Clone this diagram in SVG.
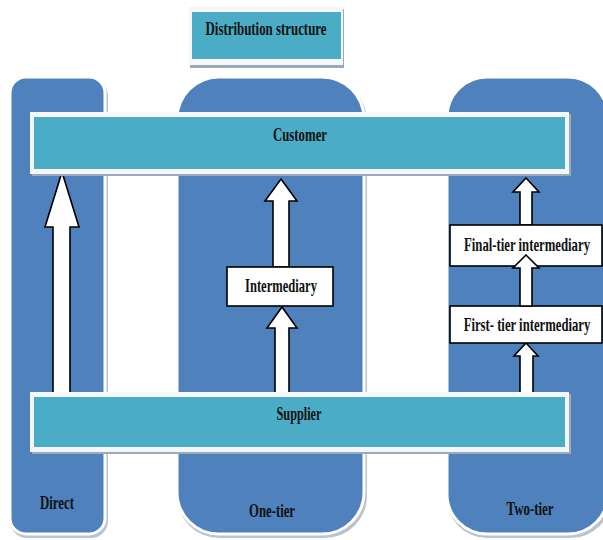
<svg xmlns="http://www.w3.org/2000/svg" width="603" height="540" viewBox="0 0 603 540">
<defs>
<style>
.col{fill:#4F81BD;stroke:#ffffff;stroke-width:3}
.colsh{fill:#b9c4d0}
.barw{fill:#f4f6f7}
.bar{fill:#4BACC6}
.sh{fill:#9aaab8}
.arrow{fill:#ffffff;stroke:#000000;stroke-width:1.6;stroke-linejoin:miter}
.box{fill:#ffffff;stroke:#000000;stroke-width:1.6}
.t{font-family:"Liberation Serif","Times New Roman",serif;font-weight:bold;font-size:19px;fill:#111111;text-anchor:middle}
</style>
</defs>
<rect width="603" height="540" fill="#ffffff"/>

<g id="col-direct">
<rect class="colsh" x="10" y="79" width="98" height="459" rx="17"/>
<rect class="col" x="10" y="77" width="95" height="457" rx="16"/>
<text class="t" x="57" y="509" textLength="34" lengthAdjust="spacingAndGlyphs">Direct</text>
</g>
<g id="col-onetier">
<rect class="colsh" x="177" y="79" width="190" height="459" rx="42"/>
<rect class="col" x="177" y="77" width="187" height="457" rx="42"/>
<text class="t" x="272" y="517" textLength="46" lengthAdjust="spacingAndGlyphs">One-tier</text>
</g>
<g id="col-twotier">
<rect class="colsh" x="447" y="79" width="164" height="459" rx="40"/>
<rect class="col" x="447" y="77" width="161" height="457" rx="40"/>
<text class="t" x="530" y="515" textLength="47" lengthAdjust="spacingAndGlyphs">Two-tier</text>
</g>

<g id="title">
<rect class="sh" x="190" y="9" width="154" height="59"/>
<rect class="barw" x="189" y="7" width="154" height="58"/>
<rect class="bar" x="192" y="12" width="149" height="47"/>
<text class="t" x="266" y="35" textLength="121" lengthAdjust="spacingAndGlyphs">Distribution structure</text>
</g>

<g id="connectors">
<polygon class="arrow" points="62,172 79,227 70,227 70,393 53,393 53,227 45,227"/>
<polygon class="arrow" points="281,179 297,201 289,201 289,267 273,267 273,201 265,201"/>
<polygon class="arrow" points="282,307 297,328 289,328 289,394 275,394 275,328 267,328"/>
<polygon class="arrow" points="526,178 539,192 532,192 532,225 520,225 520,192 513,192"/>
<polygon class="arrow" points="526,343 538,356 533,356 533,393 520,393 520,356 514,356"/>
</g>

<g id="customer">
<rect class="sh" x="32" y="114" width="539" height="62"/>
<rect class="barw" x="30" y="112" width="539" height="62"/>
<rect class="bar" x="34" y="117" width="531" height="52"/>
<text class="t" x="300" y="141" textLength="54" lengthAdjust="spacingAndGlyphs">Customer</text>
</g>

<g id="supplier">
<rect class="sh" x="32" y="394" width="539" height="60"/>
<rect class="barw" x="30" y="392" width="539" height="60"/>
<rect class="bar" x="34" y="397" width="531" height="50"/>
<text class="t" x="299" y="420" textLength="45" lengthAdjust="spacingAndGlyphs">Supplier</text>
</g>

<g id="intermediary">
<rect class="box" x="227" y="267" width="106" height="39"/>
<text class="t" x="281" y="292" textLength="72" lengthAdjust="spacingAndGlyphs">Intermediary</text>
</g>

<g id="final-tier">
<rect class="box" x="450" y="225" width="152" height="41"/>
<text class="t" transform="translate(527,251) scale(0.7,1)" x="0" y="0" textLength="180" lengthAdjust="spacingAndGlyphs">Final-tier intermediary</text>
</g>

<g id="first-tier">
<rect class="box" x="450" y="306" width="152" height="37"/>
<text class="t" transform="translate(527,331) scale(0.7,1)" x="0" y="0" textLength="181" lengthAdjust="spacingAndGlyphs">First- tier intermediary</text>
</g>

<g id="connector-overlay">
<polygon class="arrow" points="526,255 539,268 532,268 532,306 520,306 520,268 513,268"/>
</g>
</svg>
